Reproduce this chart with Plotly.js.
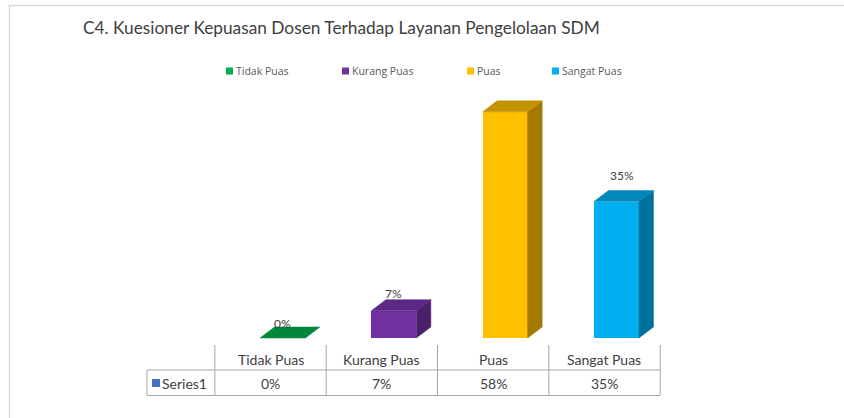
<!DOCTYPE html>
<html><head><meta charset="utf-8">
<script src="https://cdn.plot.ly/plotly-3.0.1.min.js"></script>
<style>html,body{margin:0;padding:0;background:#fff}#chart{width:844px;height:418px}</style>
</head><body><div id="chart"></div>
<script>
// ---- data ----
const categories = ['Tidak Puas', 'Kurang Puas', 'Puas', 'Sangat Puas'];
const values = [0, 7, 58, 35];
const valueLabels = ['0%', '7%', '58%', '35%'];
const seriesName = 'Series1';
const titleText = 'C4. Kuesioner Kepuasan Dosen Terhadap Layanan Pengelolaan SDM';

// ---- styles ----
const frontColors = ['#00B050', '#7030A0', '#FFC000', '#00B0F0'];
const topColors = ['#00873D', '#5C2886', '#C39300', '#0088B9'];
const sideColors = ['#006B30', '#4A1F6C', '#A27A00', '#00719B'];
const labelShown = [true, true, false, true];
const labelXShift = [0, 0, 0, 6];
const labelYShift = [15, 17, 20, 26.5];
const FONT = 'Lato, "Noto Sans", sans-serif';
const LFONT = '"Open Sans", "Noto Sans", sans-serif';
const W = 844, H = 418;
const x0px = 282.5, xstep = 111.33, y0px = 338, ypx = 3.9;
const xr = [-x0px / xstep, (W - x0px) / xstep];
const yr = [-(H - y0px) / ypx, y0px / ypx];
const bw = 45 / xstep, dx = 14.5 / xstep, dy = 11 / ypx;
const colOff = -12 / xstep;
const P = py => 1 - py / H;
const X = px => px / W;

const idx = categories.map((c, i) => i);
const traces = [];
traces.push({
  type: 'bar', x: idx, y: values, width: bw,
  marker: {color: frontColors, line: {width: 0}},
  showlegend: false, hoverinfo: 'skip', name: seriesName
});
values.forEach((v, i) => {
  const r = i + bw / 2, l = i - bw / 2;
  traces.push({
    type: 'scatter', mode: 'lines', fill: 'toself',
    x: [r, r + dx, r + dx, r, r], y: [0, dy, v + dy, v, 0],
    fillcolor: sideColors[i], line: {color: sideColors[i], width: 0.5},
    showlegend: false, hoverinfo: 'skip'
  });
  traces.push({
    type: 'scatter', mode: 'lines', fill: 'toself',
    x: [l, r, r + dx, l + dx, l], y: [v, v, v + dy, v + dy, v],
    fillcolor: topColors[i], line: {color: topColors[i], width: 0.5},
    showlegend: false, hoverinfo: 'skip'
  });
});

const shapes = [];
const annotations = [];

// chart frame
shapes.push({type: 'rect', xref: 'paper', yref: 'paper', x0: X(9.5), x1: 1.02, y0: -0.02, y1: P(5.5),
  line: {color: '#D9D9D9', width: 1.5}, fillcolor: 'rgba(0,0,0,0)', layer: 'below'});

// legend (Excel-style row)
const legendKeyX = [226, 342, 467, 552];
categories.forEach((c, i) => {
  shapes.push({type: 'rect', xref: 'paper', yref: 'paper',
    x0: X(legendKeyX[i]), x1: X(legendKeyX[i] + 7), y0: P(74.5), y1: P(67.5),
    fillcolor: frontColors[i], line: {width: 0}});
  annotations.push({xref: 'paper', yref: 'paper', x: X(legendKeyX[i] + 8), y: P(71),
    xanchor: 'left', yanchor: 'middle', showarrow: false, text: c,
    font: {family: LFONT, size: 10.5, color: '#595959'}});
});

// data labels
values.forEach((v, i) => {
  if (!labelShown[i]) return;
  annotations.push({xref: 'x', yref: 'y', x: i, y: v, xshift: labelXShift[i], yshift: labelYShift[i],
    xanchor: 'center', yanchor: 'middle', showarrow: false, text: valueLabels[i],
    font: {family: FONT, size: 12, color: '#404040'}});
});

// data table
const lineStyle = {color: '#A6A6A6', width: 1};
for (let k = 0; k <= categories.length; k++) {
  shapes.push({type: 'line', xref: 'x', yref: 'paper', x0: k - 0.5 + colOff, x1: k - 0.5 + colOff,
    y0: P(345), y1: P(395.5), line: lineStyle});
}
const tableLeft = (147 - x0px) / xstep;
shapes.push({type: 'line', xref: 'x', yref: 'paper', x0: tableLeft, x1: tableLeft, y0: P(370), y1: P(395.5), line: lineStyle});
[370, 395.5].forEach(py => shapes.push({type: 'line', xref: 'x', yref: 'paper',
  x0: tableLeft, x1: categories.length - 0.5 + colOff, y0: P(py), y1: P(py), line: lineStyle}));
categories.forEach((c, i) => {
  annotations.push({xref: 'x', yref: 'paper', x: i + colOff, y: P(359), xanchor: 'center', yanchor: 'middle',
    showarrow: false, text: c, font: {family: FONT, size: 14, color: '#404040'}});
  annotations.push({xref: 'x', yref: 'paper', x: i + colOff, y: P(383), xanchor: 'center', yanchor: 'middle',
    showarrow: false, text: valueLabels[i], font: {family: FONT, size: 14, color: '#404040'}});
});
shapes.push({type: 'rect', xref: 'paper', yref: 'paper', x0: X(152), x1: X(160), y0: P(387), y1: P(379),
  fillcolor: '#4472C4', line: {width: 0}});
annotations.push({xref: 'paper', yref: 'paper', x: X(160), y: P(383), xanchor: 'left', yanchor: 'middle',
  showarrow: false, text: seriesName, font: {family: FONT, size: 14, color: '#404040'}});

const layout = {
  width: W, height: H,
  margin: {l: 0, r: 0, t: 0, b: 0, pad: 0},
  paper_bgcolor: '#FFFFFF', plot_bgcolor: 'rgba(0,0,0,0)',
  showlegend: false,
  title: {text: titleText, x: X(83), xanchor: 'left', xref: 'paper', y: P(28), yanchor: 'middle', yref: 'paper',
    font: {family: FONT, size: 17.3, color: '#404040'}},
  xaxis: {range: xr, visible: false, fixedrange: true},
  yaxis: {range: yr, visible: false, fixedrange: true},
  shapes: shapes, annotations: annotations,
  bargap: 0
};
Plotly.newPlot('chart', traces, layout, {displayModeBar: false, staticPlot: true});
</script></body></html>
